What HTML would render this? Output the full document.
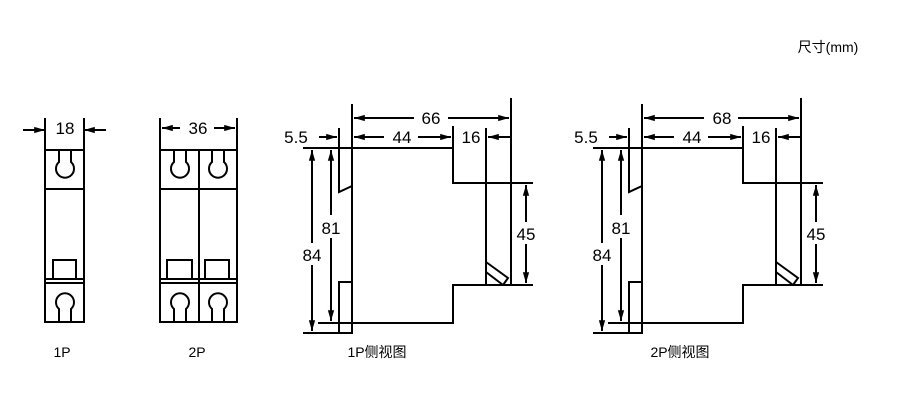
<!DOCTYPE html>
<html><head><meta charset="utf-8"><style>
html,body{margin:0;padding:0;background:#fff;}
svg{display:block}
text{font-family:"Liberation Sans","Noto Sans CJK SC",sans-serif;fill:#000}
</style></head><body>
<svg width="900" height="401" viewBox="0 0 900 401" xmlns="http://www.w3.org/2000/svg">
<defs>
<marker id="ar" viewBox="0 0 12 10" refX="12" refY="5" markerWidth="12" markerHeight="9" markerUnits="userSpaceOnUse" orient="auto-start-reverse">
<path d="M0,1.5 L12,5 L0,8.5 z" fill="#000"/></marker>
</defs>
<g stroke="#000" stroke-width="2" fill="none">
<!-- 1P front -->
<rect x="45" y="150" width="39" height="172"/>
<line x1="45" y1="189" x2="84" y2="189"/>
<line x1="45" y1="279" x2="84" y2="279"/>
<line x1="45" y1="283" x2="84" y2="283"/>
<rect x="53" y="260" width="23" height="19"/>
<path d="M59,150 L59,162 A9,9 0 1 0 71,162 L71,150"/>
<path d="M59,322 L59,309 A9,9 0 1 1 71,309 L71,322"/>
<line x1="45" y1="118" x2="45" y2="150"/>
<line x1="84" y1="118" x2="84" y2="150"/>
<line x1="23" y1="130" x2="45" y2="130" marker-end="url(#ar)"/>
<line x1="106" y1="130" x2="84" y2="130" marker-end="url(#ar)"/>
<!-- 2P front -->
<rect x="160" y="150" width="77" height="172"/>
<line x1="199" y1="150" x2="199" y2="322"/>
<line x1="160" y1="189" x2="237" y2="189"/>
<line x1="160" y1="279" x2="237" y2="279"/>
<line x1="160" y1="283" x2="237" y2="283"/>
<rect x="167" y="260" width="25" height="19"/>
<rect x="205" y="260" width="24" height="19"/>
<path d="M174,150 L174,162 A9,9 0 1 0 186,162 L186,150"/>
<path d="M212,150 L212,162 A9,9 0 1 0 224,162 L224,150"/>
<path d="M174,322 L174,309 A9,9 0 1 1 186,309 L186,322"/>
<path d="M212,322 L212,309 A9,9 0 1 1 224,309 L224,322"/>
<line x1="160" y1="118" x2="160" y2="150"/>
<line x1="237" y1="118" x2="237" y2="150"/>
<line x1="162" y1="128" x2="180" y2="128" marker-start="url(#ar)"/>
<line x1="214" y1="128" x2="235" y2="128" marker-end="url(#ar)"/>
</g>
<text x="65" y="134" font-size="17" text-anchor="middle">18</text>
<text x="198" y="134" font-size="17" text-anchor="middle">36</text>
<text x="62" y="357" font-size="14" text-anchor="middle">1P</text>
<text x="197" y="357" font-size="14" text-anchor="middle">2P</text>

<g id="side">
<g stroke="#000" stroke-width="2" fill="none">
<line x1="352" y1="104" x2="352" y2="333"/>
<line x1="303" y1="148" x2="453" y2="148"/>
<polyline points="453,126 453,183 533,183"/>
<line x1="486" y1="128" x2="486" y2="285"/>
<line x1="511" y1="98" x2="511" y2="285"/>
<polyline points="533,285 453,285 453,323 318,323"/>
<line x1="303" y1="333" x2="352" y2="333"/>
<polyline points="339,128 339,192 352,186"/>
<rect x="339" y="282" width="13" height="51"/>
<polyline points="486,262 508,278 503,285"/>
<line x1="486" y1="272" x2="503" y2="285"/>
<line x1="354" y1="118" x2="414" y2="118" marker-start="url(#ar)"/>
<line x1="448" y1="118" x2="509" y2="118" marker-end="url(#ar)"/>
<line x1="354" y1="137" x2="384" y2="137" marker-start="url(#ar)"/>
<line x1="418" y1="137" x2="451" y2="137" marker-end="url(#ar)"/>
<line x1="511" y1="137" x2="488" y2="137" marker-end="url(#ar)"/>
<line x1="319" y1="137" x2="337" y2="137" marker-end="url(#ar)"/>
<line x1="312" y1="150" x2="312" y2="243" marker-start="url(#ar)"/>
<line x1="312" y1="265" x2="312" y2="331" marker-end="url(#ar)"/>
<line x1="331" y1="150" x2="331" y2="215" marker-start="url(#ar)"/>
<line x1="331" y1="238" x2="331" y2="321" marker-end="url(#ar)"/>
<line x1="526" y1="185" x2="526" y2="222" marker-start="url(#ar)"/>
<line x1="526" y1="244" x2="526" y2="283" marker-end="url(#ar)"/>
</g>
<text x="402" y="143" font-size="17" text-anchor="middle">44</text>
<text x="471" y="143" font-size="17" text-anchor="middle">16</text>
<text x="296" y="143" font-size="17" text-anchor="middle">5.5</text>
<text x="312" y="261" font-size="17" text-anchor="middle">84</text>
<text x="331" y="234" font-size="17" text-anchor="middle">81</text>
<text x="526" y="240" font-size="17" text-anchor="middle">45</text>
</g>
<text x="431" y="124" font-size="17" text-anchor="middle">66</text>
<text x="377" y="357" font-size="14" text-anchor="middle">1P侧视图</text>

<use href="#side" transform="translate(290,0)"/>
<text x="722" y="124" font-size="17" text-anchor="middle">68</text>
<text x="680" y="357" font-size="14" text-anchor="middle">2P侧视图</text>

<text x="828" y="52" font-size="14" text-anchor="middle">尺寸(mm)</text>
</svg>
</body></html>
